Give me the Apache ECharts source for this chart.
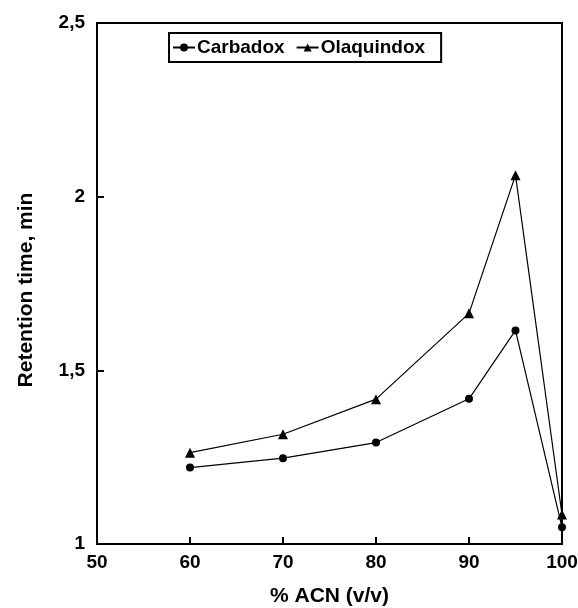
<!DOCTYPE html>
<html><head><meta charset="utf-8">
<script src="https://cdn.jsdelivr.net/npm/echarts@6/dist/echarts.min.js"></script>
<style>html,body{margin:0;padding:0;background:#fff}#c{width:578px;height:608px}</style>
</head><body><div id="c"></div>
<script>
const xValues = [60, 70, 80, 90, 95, 100];
const carbadox = [1.22, 1.247, 1.292, 1.418, 1.615, 1.048];
const olaquindox = [1.263, 1.316, 1.417, 1.664, 2.062, 1.085];
const seriesNames = ['Carbadox', 'Olaquindox'];

const font = 'Liberation Sans, Arial, sans-serif';
const chart = echarts.init(document.getElementById('c'), null, {renderer: 'canvas'});
const fmt = v => String(Math.round(v * 10) / 10).replace('.', ',');
chart.setOption({
  animation: false,
  backgroundColor: '#fff',
  grid: {left: 97, right: 16, top: 23, bottom: 64, show: true, borderColor: '#000', borderWidth: 2,
         backgroundColor: 'transparent', containLabel: false, outerBoundsMode: 'none'},
  legend: {
    left: 169, top: 33, width: 273, height: 30,
    borderColor: '#000', borderWidth: 2, padding: [5, 16, 5, 3],
    itemGap: 11, itemWidth: 22, itemHeight: 10,
    textStyle: {fontFamily: font, fontWeight: 'bold', fontSize: 19, color: '#000', padding: [0, 0, 0, -3]},
    data: seriesNames
  },
  xAxis: {
    type: 'value', min: 50, max: 100, interval: 10,
    name: '% ACN (v/v)', nameLocation: 'middle', nameGap: 42,
    nameTextStyle: {fontFamily: font, fontWeight: 'bold', fontSize: 21, color: '#000'},
    axisLine: {lineStyle: {color: '#000', width: 2}},
    axisTick: {inside: true, length: 7, lineStyle: {color: '#000', width: 2}},
    axisLabel: {fontFamily: font, fontWeight: 'bold', fontSize: 19, color: '#000', margin: 9},
    splitLine: {show: false}
  },
  yAxis: {
    type: 'value', min: 1, max: 2.5, interval: 0.5,
    name: 'Retention time, min', nameLocation: 'middle', nameGap: 60, nameRotate: 90,
    nameTextStyle: {fontFamily: font, fontWeight: 'bold', fontSize: 21, color: '#000', padding: [0, 13, 0, 0]},
    axisLine: {lineStyle: {color: '#000', width: 2}},
    axisTick: {inside: true, length: 7, lineStyle: {color: '#000', width: 2}},
    axisLabel: {fontFamily: font, fontWeight: 'bold', fontSize: 19, color: '#000', margin: 12, formatter: fmt},
    splitLine: {show: false}
  },
  series: [
    {name: seriesNames[0], type: 'line', data: xValues.map((x, i) => [x, carbadox[i]]),
     symbol: 'circle', symbolSize: 8, lineStyle: {color: '#000', width: 1.2}, itemStyle: {color: '#000'}},
    {name: seriesNames[1], type: 'line', data: xValues.map((x, i) => [x, olaquindox[i]]),
     symbol: 'triangle', symbolSize: 10, lineStyle: {color: '#000', width: 1.2}, itemStyle: {color: '#000'}}
  ]
});
</script></body></html>
